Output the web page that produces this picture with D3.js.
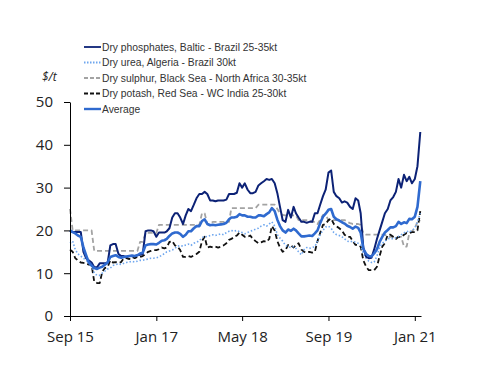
<!DOCTYPE html>
<html>
<head>
<meta charset="utf-8">
<script src="https://cdn.jsdelivr.net/npm/d3@7"></script>
<style>
  body { margin: 0; background: #fff; }
  svg { display: block; }
</style>
</head>
<body>
<div id="chart"></div>
<script>
// half-monthly readings (1st and 16th), Sep 2015 .. Feb 2021
const phosphates = [
  20, 19.6, 19.6, 19.6, 19.6, 15, 13.5, 13, 12.5, 11.4, 11.4, 12.3, 12.3, 12.3, 12.5, 16.5, 16.8, 16.8, 14.5, 14,
  14, 13.8, 14, 14, 14, 14.2, 14.3, 14.5, 19.8, 20, 20, 19.8, 18.5, 19.5, 19.5, 19.5, 19.8, 20.5, 23, 24,
  24, 23, 21.5, 23.5, 25, 24.5, 26, 27.5, 28.5, 28.5, 29, 28.5, 27, 27, 26.8, 27, 27, 27, 27.2, 28.5,
  28.5, 28.5, 28.8, 31, 30, 31, 29.5, 28.7, 28.7, 29, 30.5, 31, 31.5, 32, 31.8, 32, 31, 28.7, 25.5, 22.4,
  22, 24.8, 23, 25.5, 24, 23, 22, 22, 21.8, 22, 22, 24, 24, 26, 28, 29.5, 33.5, 34, 29, 28,
  27.5, 26.5, 26.8, 26.5, 25.5, 25, 27.5, 27, 24, 16, 13.8, 13.5, 13.6, 15.5, 18, 20, 22, 24, 25, 27,
  27.8, 29, 32, 30, 33, 31.5, 32.5, 31, 32, 35, 43
];
const urea = [
  17, 17.5, 15.5, 14.5, 14, 13.5, 13, 12.5, 12, 10, 9.5, 9.5, 10, 10.5, 11, 11.2, 11.8, 12, 12.2, 12,
  12.3, 12.5, 12.6, 12.8, 12.6, 12.8, 13, 13, 13.2, 13.3, 13.5, 13.5, 13.6, 13.8, 14.2, 14.6, 15, 15.2, 15.4, 15.8,
  16.3, 16.5, 16.3, 16.6, 16.8, 16.5, 17, 17.2, 17.6, 18.3, 18.6, 18.5, 18.8, 19, 18.8, 19, 19.2, 19, 19.5, 19.8,
  20, 19.8, 20, 19.7, 19.5, 19.2, 19.5, 19.8, 20, 20.3, 20.5, 21, 21.3, 21, 21.5, 22, 21, 19, 18.2, 17.5,
  16.5, 16.2, 16, 16.2, 15.8, 15, 14.3, 15.5, 16, 15.8, 16, 16.2, 17.5, 19, 20, 20.8, 21, 20.5, 19.5, 19,
  18.8, 18.5, 18, 17.5, 17.3, 17.5, 17.2, 17, 16.5, 14.5, 13.5, 12.8, 12.5, 12.6, 14, 16, 17, 17.5, 18, 18.2,
  18, 18.3, 18.6, 19, 19.4, 19.8, 19.6, 20, 20.5, 22, 24
];
const sulphur = [
  25, 20, 20, 20, 20, 20, 20, 20, 20, 15.2, 15.2, 15.2, 15.2, 15.2, 15.2, 15.2, 15.2, 15.2, 15.2, 15.2,
  15.2, 15.2, 15.2, 15.2, 15.2, 15.2, 17.3, 17.3, 19.4, 19.4, 19.4, 19.4, 19.4, 21.3, 21.3, 21.3, 21.3, 21.3, 21.3, 21.3,
  21.3, 21.3, 21.3, 21.3, 21.3, 21.3, 21.3, 21.3, 21.3, 24, 24, 21.5, 21.5, 22, 22, 22, 22, 22, 22, 22,
  25.2, 25.2, 25.2, 25.2, 25.2, 25.2, 25.2, 25.2, 25.2, 25.2, 26, 26, 26, 26, 26, 26, 26, 25, 24, 23.6,
  23.5, 23.5, 23.5, 23.5, 23.5, 22.4, 22.4, 22.4, 22.4, 22.4, 22, 22, 21.5, 22.5, 23.6, 23.6, 22.4, 22.4, 22.4, 22.4,
  22.4, 22.4, 22.4, 22, 21.7, 21.5, 21.5, 21.5, 21.3, 19.4, 19, 19, 19, 19, 19, 19, 19, 19, 18.5, 18.5,
  18.5, 18.5, 18.5, 18.5, 16.2, 16.2, 19.4, 19.8, 20.5, 22, 22.4
];
const potash = [
  15.5, 15, 13.5, 13, 12.5, 12.4, 12.3, 12, 12, 8, 7.7, 7.7, 10.3, 11.2, 11.5, 13, 12.5, 12.6, 12.4, 12.6,
  13.5, 13.5, 13.3, 13.8, 13.5, 13.8, 13.8, 14, 14.5, 15, 15.2, 15.4, 15.4, 15.6, 16, 15.8, 16, 17.3, 17.5, 16.5,
  16.2, 15.4, 13.8, 13.8, 14, 13.8, 14.2, 14.5, 15, 17.5, 18.5, 16, 16.2, 16, 16.2, 16, 16.2, 16.5, 17, 17.8,
  18, 18.5, 18.8, 19.5, 19, 18.5, 18.5, 18.8, 18, 17.5, 17, 17.2, 17.5, 17.3, 18, 21, 20, 17.5, 16, 15,
  15.4, 16.6, 16.5, 16, 16.6, 17, 15.5, 15, 14.8, 15, 14.8, 15, 17.5, 19.4, 21.3, 21.5, 22.4, 22.8, 21.5, 21,
  20.5, 20, 19, 18.5, 18.5, 17.5, 16.6, 16.6, 16.2, 13, 11.5, 10.7, 10.7, 10.7, 11.5, 14, 16.2, 17, 19, 19,
  18.5, 18, 18.5, 18.5, 19, 19.4, 19.4, 19.6, 19.6, 20, 24.5
];
const average = [
  20, 19.6, 19.3, 18.8, 18.5, 16, 14.2, 12.5, 11.8, 11.2, 11, 11.3, 11.5, 12, 12.5, 13.8, 14, 14.2, 13.8, 13.6,
  13.8, 13.9, 14, 14.1, 14, 14.2, 14.6, 14.8, 16.5, 16.7, 16.8, 16.8, 16.7, 17.1, 17.6, 17.7, 18, 18.7, 19.3, 19.5,
  19.5, 19.2, 18.5, 19, 19.8, 19.8, 20.5, 21, 21, 22.2, 22.6, 21.5, 21.2, 21.3, 21.2, 21.3, 21.4, 21.5, 21.8, 22.6,
  23, 23, 23.2, 23.8, 23.5, 23.5, 23.2, 23.2, 23, 23, 23.5, 23.5, 23.3, 23.8, 24.2, 25.2, 24.5, 22.5, 21, 20,
  19.5, 20.2, 19.9, 20.4, 20, 19.3, 18.6, 18.6, 18.7, 18.8, 18.7, 19.3, 20, 21.7, 23.2, 23.9, 24.8, 25, 23.2, 22.6,
  22.3, 21.9, 21.6, 21.1, 20.8, 20.4, 20.9, 20.6, 19.5, 15.7, 14.5, 14, 13.9, 14.6, 15.6, 17.3, 18.5, 19.5, 20.1, 20.7,
  20.7, 21, 22, 21.5, 21.9, 21.7, 22.7, 22.6, 23.2, 25.5, 31.5
];

const seriesNames = [
  "Dry phosphates, Baltic - Brazil 25-35kt",
  "Dry urea, Algeria - Brazil 30kt",
  "Dry sulphur, Black Sea - North Africa 30-35kt",
  "Dry potash, Red Sea - WC India 25-30kt",
  "Average"
];
const xTickDates = ["2015-09-01", "2017-01-01", "2018-05-01", "2019-09-01", "2021-01-01"];
const yTickValues = [0, 10, 20, 30, 40, 50];

const dates = phosphates.map((_, i) => new Date(2015, 8 + Math.floor(i / 2), i % 2 ? 16 : 1));

const width = 500, height = 386;
const margin = {top: 102, right: 79, bottom: 70, left: 70};

const svg = d3.select("#chart").append("svg")
  .attr("width", width)
  .attr("height", height);

const x = d3.scaleTime()
  .domain([new Date(2015, 8, 1), new Date(2021, 1, 5)])
  .range([margin.left, width - margin.right]);

const y = d3.scaleLinear()
  .domain([0, 50])
  .range([height - margin.bottom, margin.top]);

const styles = [
  {data: phosphates, color: "#0c2276", width: 2, dash: null},
  {data: urea, color: "#6ea6ee", width: 1.6, dash: "1.5,2"},
  {data: sulphur, color: "#a3a3a3", width: 1.8, dash: "5,3"},
  {data: potash, color: "#111111", width: 1.8, dash: "5,3"},
  {data: average, color: "#2f6acf", width: 2.6, dash: null}
];

const line = d3.line()
  .x((d, i) => x(dates[i]))
  .y(d => y(d));

// draw the thin ones first, phosphates and average on top
const drawOrder = [2, 3, 1, 0, 4];
drawOrder.forEach(function (k) {
  const s = styles[k];
  svg.append("path")
    .datum(s.data)
    .attr("fill", "none")
    .attr("stroke", s.color)
    .attr("stroke-width", s.width)
    .attr("stroke-dasharray", s.dash)
    .attr("stroke-linejoin", "round")
    .attr("d", line);
});

// axes
const xAxis = svg.append("g")
  .attr("transform", "translate(0," + (height - margin.bottom) + ")")
  .call(d3.axisBottom(x)
    .tickValues(xTickDates.map(d => d3.timeParse("%Y-%m-%d")(d)))
    .tickFormat(d3.timeFormat("%b %y"))
    .tickSize(5)
    .tickSizeOuter(0)
    .tickPadding(10));

const yAxis = svg.append("g")
  .attr("transform", "translate(" + margin.left + ",0)")
  .call(d3.axisLeft(y)
    .tickValues(yTickValues)
    .tickSize(6)
    .tickSizeOuter(0)
    .tickPadding(11));

svg.selectAll(".tick text")
  .style("font-family", "'Open Sans', sans-serif")
  .style("font-size", "15px")
  .attr("fill", "#222");
svg.selectAll(".domain, .tick line").attr("stroke", "#000");

svg.append("text")
  .attr("x", 42)
  .attr("y", 81)
  .style("font-family", "'Open Sans', sans-serif")
  .style("font-size", "12px")
  .style("font-style", "italic")
  .attr("fill", "#222")
  .text("$/t");

// legend
const legend = svg.append("g").attr("transform", "translate(84,47)");
seriesNames.forEach(function (name, i) {
  const s = styles[i];
  const row = legend.append("g").attr("transform", "translate(0," + (i * 15.5) + ")");
  row.append("line")
    .attr("x1", 0).attr("x2", 17)
    .attr("stroke", s.color)
    .attr("stroke-width", i === 4 ? 2.4 : 1.8)
    .attr("stroke-dasharray", i === 1 ? "1.5,1.5" : (s.dash ? "4,2" : null));
  row.append("text")
    .attr("x", 18)
    .attr("dy", "0.35em")
    .style("font-family", "'Liberation Sans', Arial, sans-serif")
    .style("font-size", "10.3px")
    .attr("fill", "#333")
    .text(name);
});
</script>
</body>
</html>
